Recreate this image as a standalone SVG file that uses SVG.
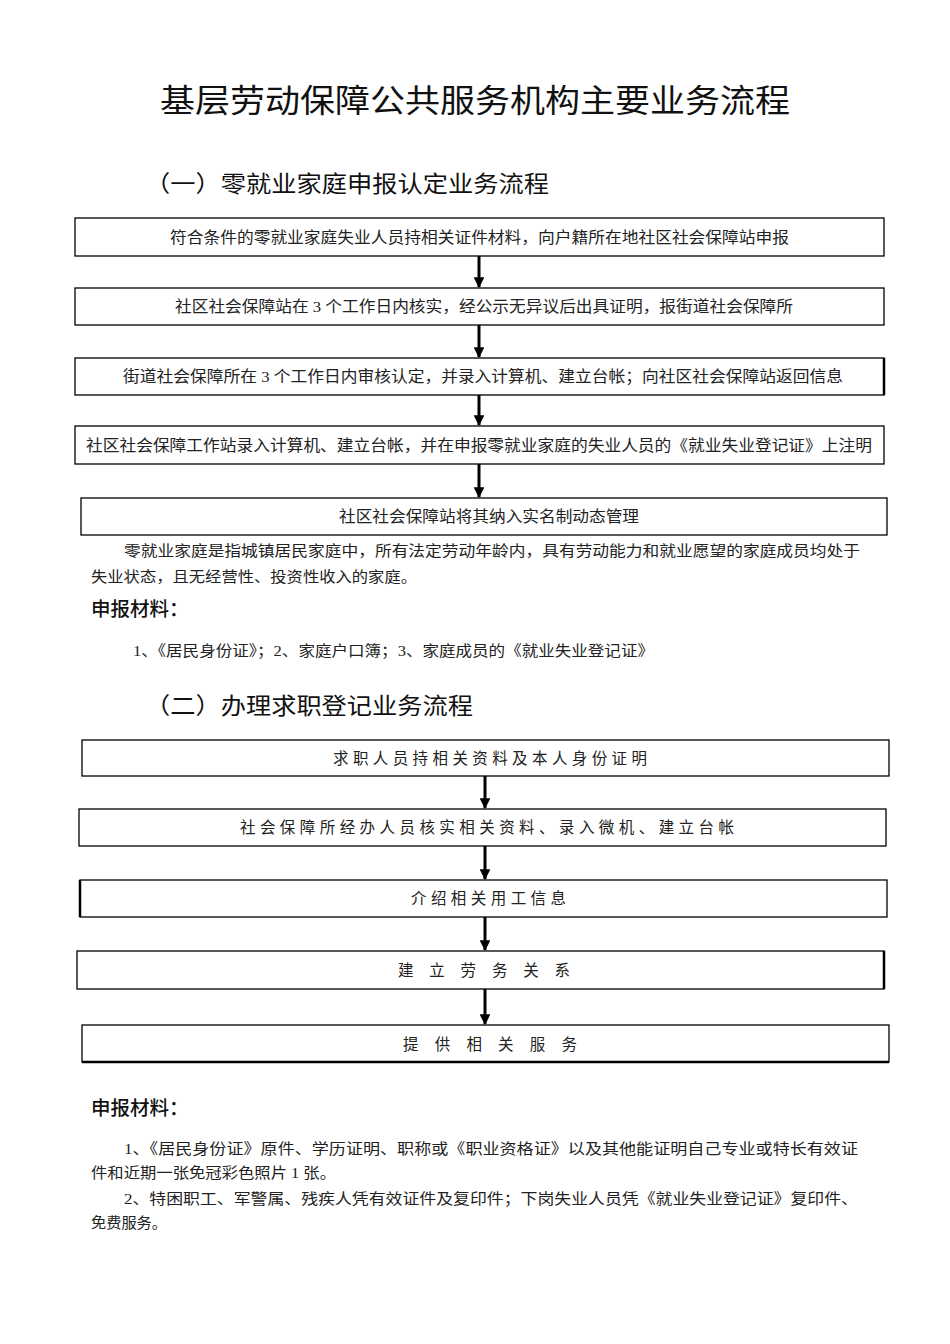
<svg xmlns="http://www.w3.org/2000/svg" width="950" height="1344" viewBox="0 0 950 1344">
<style>
.bg{fill:#fff}
.box{fill:#fff;stroke:#000;stroke-width:1.3}
.bt{font-family:"Liberation Serif","Noto Sans CJK SC",serif;font-size:15.5px;fill:#222;text-anchor:start}
.body{font-family:"Liberation Serif","Noto Sans CJK SC",serif;font-size:15px;fill:#222}
.h1{font-family:"Liberation Sans","Noto Sans CJK SC",sans-serif;font-size:32px;fill:#111}
.h2{font-family:"Liberation Sans","Noto Sans CJK SC",sans-serif;font-size:23px;fill:#111}
.h3{font-family:"Liberation Sans","Noto Sans CJK SC",sans-serif;font-size:19.5px;font-weight:500;fill:#111}
.ln{stroke:#000;stroke-width:3;fill:none}
</style>
<defs>
<marker id="ah" viewBox="0 0 10 10" refX="9" refY="5" markerWidth="3.6" markerHeight="3.6" orient="auto" markerUnits="strokeWidth">
<path d="M0,0 L10,5 L0,10 Z" fill="#000"/>
</marker>
</defs>
<rect class="bg" x="0" y="0" width="950" height="1344"/>
<text class="h1" x="160" y="112" textLength="630" lengthAdjust="spacingAndGlyphs">基层劳动保障公共服务机构主要业务流程</text>
<text class="h2" x="145" y="192" textLength="404" lengthAdjust="spacingAndGlyphs">（一）零就业家庭申报认定业务流程</text>

<g id="connectors">
<line class="ln" x1="479" y1="256" x2="479" y2="287" marker-end="url(#ah)"/>
<line class="ln" x1="479" y1="325" x2="479" y2="357" marker-end="url(#ah)"/>
<line class="ln" x1="479" y1="395" x2="479" y2="425" marker-end="url(#ah)"/>
<line class="ln" x1="479" y1="464" x2="479" y2="497" marker-end="url(#ah)"/>
<line class="ln" x1="485" y1="776" x2="485" y2="808" marker-end="url(#ah)"/>
<line class="ln" x1="485" y1="846" x2="485" y2="879" marker-end="url(#ah)"/>
<line class="ln" x1="485" y1="917" x2="485" y2="950" marker-end="url(#ah)"/>
<line class="ln" x1="485" y1="989" x2="485" y2="1024" marker-end="url(#ah)"/>
</g>

<g id="n1">
<rect class="box" x="75" y="218" width="809" height="38"/>
<text class="bt" x="170" y="243" textLength="619" lengthAdjust="spacingAndGlyphs">符合条件的零就业家庭失业人员持相关证件材料，向户籍所在地社区社会保障站申报</text>
</g>
<g id="n2">
<rect class="box" x="75" y="288" width="809" height="37"/>
<text class="bt" x="175" y="312" textLength="618" lengthAdjust="spacingAndGlyphs">社区社会保障站在 3 个工作日内核实，经公示无异议后出具证明，报街道社会保障所</text>
</g>
<g id="n3">
<rect class="box" x="75" y="358" width="809" height="37"/>
<line x1="884" y1="358" x2="884" y2="395" stroke="#000" stroke-width="2.5"/>
<text class="bt" x="123" y="382" textLength="720" lengthAdjust="spacingAndGlyphs">街道社会保障所在 3 个工作日内审核认定，并录入计算机、建立台帐；向社区社会保障站返回信息</text>
</g>
<g id="n4">
<rect class="box" x="75" y="426" width="809" height="38" stroke-width="2.2"/>
<text class="bt" x="86" y="451" textLength="786" lengthAdjust="spacingAndGlyphs">社区社会保障工作站录入计算机、建立台帐，并在申报零就业家庭的失业人员的《就业失业登记证》上注明</text>
</g>
<g id="n5">
<rect class="box" x="81" y="498" width="806" height="37"/>
<text class="bt" x="339" y="522" textLength="300" lengthAdjust="spacingAndGlyphs">社区社会保障站将其纳入实名制动态管理</text>
</g>

<text class="body" x="124" y="556" textLength="736" lengthAdjust="spacingAndGlyphs">零就业家庭是指城镇居民家庭中，所有法定劳动年龄内，具有劳动能力和就业愿望的家庭成员均处于</text>
<text class="body" x="91" y="582" textLength="326" lengthAdjust="spacingAndGlyphs">失业状态，且无经营性、投资性收入的家庭。</text>
<text class="h3" x="91" y="616">申报材料：</text>
<text class="body" x="133" y="656" textLength="521" lengthAdjust="spacingAndGlyphs">1、《居民身份证》；2、家庭户口簿；3、家庭成员的《就业失业登记证》</text>

<text class="h2" x="145" y="714" textLength="328" lengthAdjust="spacingAndGlyphs">（二）办理求职登记业务流程</text>

<g id="m1">
<rect class="box" x="82" y="740" width="807" height="36"/>
<text class="bt" x="333" y="764" font-size="14.5" textLength="314" lengthAdjust="spacing">求职人员持相关资料及本人身份证明</text>
</g>
<g id="m2">
<rect class="box" x="79" y="809" width="807" height="37"/>
<text class="bt" x="240" y="833" font-size="14.5" textLength="494" lengthAdjust="spacing">社会保障所经办人员核实相关资料、录入微机、建立台帐</text>
</g>
<g id="m3">
<rect class="box" x="80" y="880" width="807" height="37"/>
<line x1="80" y1="880" x2="80" y2="917" stroke="#000" stroke-width="2.5"/>
<text class="bt" x="411" y="904" font-size="14.5" textLength="155" lengthAdjust="spacing">介绍相关用工信息</text>
</g>
<g id="m4">
<rect class="box" x="77" y="951" width="807" height="38"/>
<line x1="884" y1="951" x2="884" y2="989" stroke="#000" stroke-width="2.5"/>
<text class="bt" x="398" y="976" font-size="14.5" textLength="172" lengthAdjust="spacing">建立劳务关系</text>
</g>
<g id="m5">
<rect class="box" x="82" y="1025" width="807" height="37"/>
<line x1="82" y1="1062" x2="889" y2="1062" stroke="#000" stroke-width="2.5"/>
<text class="bt" x="403" y="1050" font-size="14.5" textLength="174" lengthAdjust="spacing">提供相关服务</text>
</g>

<text class="h3" x="91" y="1115">申报材料：</text>
<text class="body" x="124" y="1154" textLength="734" lengthAdjust="spacingAndGlyphs">1、《居民身份证》原件、学历证明、职称或《职业资格证》以及其他能证明自己专业或特长有效证</text>
<text class="body" x="91" y="1178" textLength="245" lengthAdjust="spacingAndGlyphs">件和近期一张免冠彩色照片 1 张。</text>
<text class="body" x="124" y="1204" textLength="734" lengthAdjust="spacingAndGlyphs">2、特困职工、军警属、残疾人凭有效证件及复印件；下岗失业人员凭《就业失业登记证》复印件、</text>
<text class="body" x="91" y="1228" textLength="76" lengthAdjust="spacingAndGlyphs">免费服务。</text>
</svg>
